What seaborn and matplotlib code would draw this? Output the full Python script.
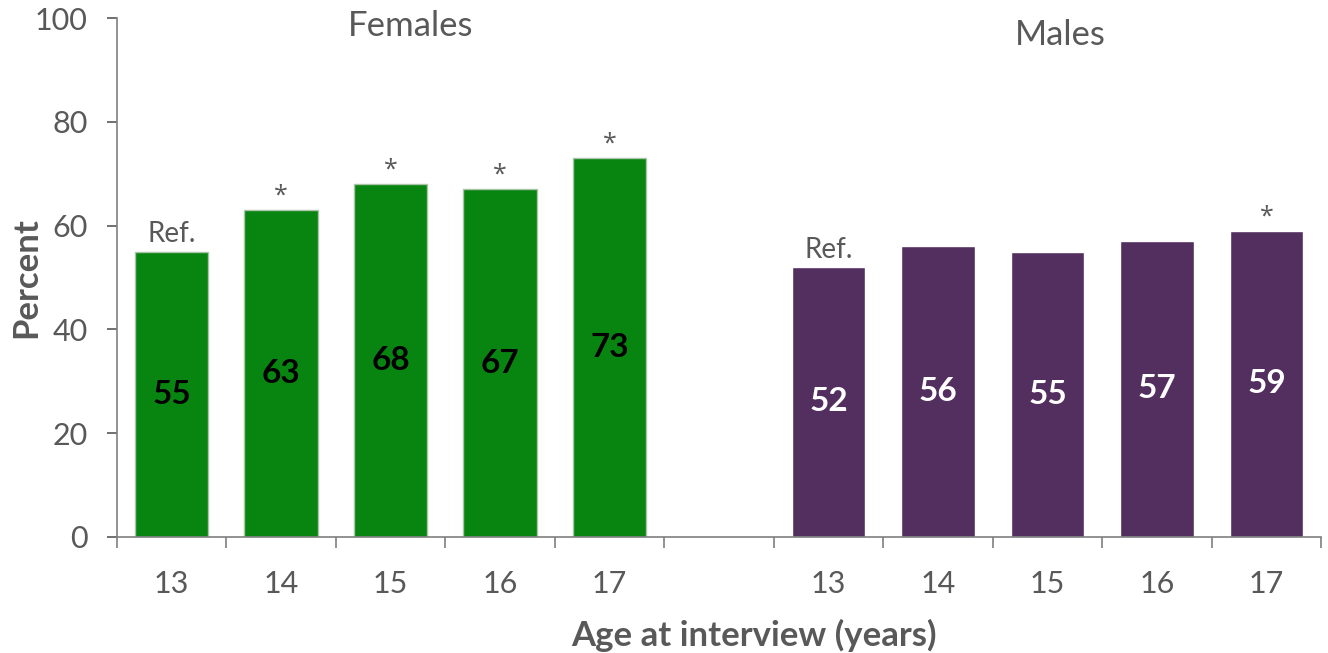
import numpy as np
import pandas as pd
import matplotlib
matplotlib.use("Agg")
import matplotlib.pyplot as plt
import seaborn as sns

ages = ["13", "14", "15", "16", "17"]
female_values = [55, 63, 68, 67, 73]
male_values = [52, 56, 55, 57, 59]
female_marks = ["Ref.", "*", "*", "*", "*"]
male_marks = ["Ref.", "", "", "", "*"]
groups = ["Females", "Males"]

sns.set_theme(style="white")
plt.rcParams["font.family"] = ["Lato", "DejaVu Sans"]

slots = [f"F{a}" for a in ages] + ["gap"] + [f"M{a}" for a in ages]
df = pd.DataFrame({
    "slot": [f"F{a}" for a in ages] + [f"M{a}" for a in ages],
    "value": female_values + male_values,
    "sex": ["Females"] * 5 + ["Males"] * 5,
})

fig = plt.figure(figsize=(13.28, 6.53), dpi=100)
ax = fig.add_axes([0.088, 0.178, 0.907, 0.794])

sns.barplot(data=df, x="slot", y="value", hue="sex", order=slots,
            palette={"Females": "#088511", "Males": "#532F60"},
            dodge=False, width=0.67, saturation=1, legend=False, ax=ax)

gray = "#595959"
for p in ax.patches[:5]:
    p.set_edgecolor("#a9c4a9")
    p.set_linewidth(1.0)

ax.set_xlim(-0.5, 10.5)
ax.set_ylim(0, 100)
ax.set_yticks([0, 20, 40, 60, 80, 100])
ax.tick_params(axis="y", labelsize=22, colors=gray, length=7, width=1.2, direction="out", left=True, pad=14)
for t in ax.get_yticklabels():
    t.set_color(gray)

ax.set_xticks(np.arange(-0.5, 11, 1))
ax.set_xticklabels([])
ax.tick_params(axis="x", which="major", length=8, width=1.2, color="#7f7f7f", direction="out", bottom=True)
label_pos = [0, 1, 2, 3, 4, 6, 7, 8, 9, 10]
ax.set_xticks(label_pos, minor=True)
ax.set_xticklabels(ages + ages, minor=True)
ax.tick_params(axis="x", which="minor", length=0, labelsize=22, labelcolor=gray, pad=24)

for s in ["top", "right"]:
    ax.spines[s].set_visible(False)
for s in ["left", "bottom"]:
    ax.spines[s].set_color("#7f7f7f")
    ax.spines[s].set_linewidth(1.2)

ax.set_xlabel("Age at interview (years)", fontsize=25, fontweight="bold", color=gray)
ax.set_ylabel("Percent", fontsize=25, fontweight="bold", color=gray)
ax.xaxis.set_label_coords(0.529, -0.158)
ax.yaxis.set_label_coords(-0.062, 0.5)

star_font = ["Open Sans", "DejaVu Sans"]
for i, v in enumerate(female_values):
    ax.text(i, v / 2, str(v), ha="center", va="center", fontsize=24, fontweight="bold", color="black")
    m = female_marks[i]
    if m == "*":
        ax.text(i, v + 0.3, m, ha="center", va="bottom", fontsize=18, color=gray, family=star_font)
    else:
        ax.text(i, v + 0.8, m, ha="center", va="bottom", fontsize=20, color=gray)
for i, v in enumerate(male_values):
    x = 6 + i
    ax.text(x, v / 2, str(v), ha="center", va="center", fontsize=24, fontweight="bold", color="white")
    m = male_marks[i]
    if m == "*":
        ax.text(x, v + 0.3, m, ha="center", va="bottom", fontsize=18, color=gray, family=star_font)
    elif m:
        ax.text(x, v + 0.8, m, ha="center", va="bottom", fontsize=20, color=gray)

ax.text(2.18, 98.5, groups[0], ha="center", va="center", fontsize=25, color=gray)
ax.text(8.12, 96.7, groups[1], ha="center", va="center", fontsize=25, color=gray)

fig.savefig("out.png", dpi=100)
